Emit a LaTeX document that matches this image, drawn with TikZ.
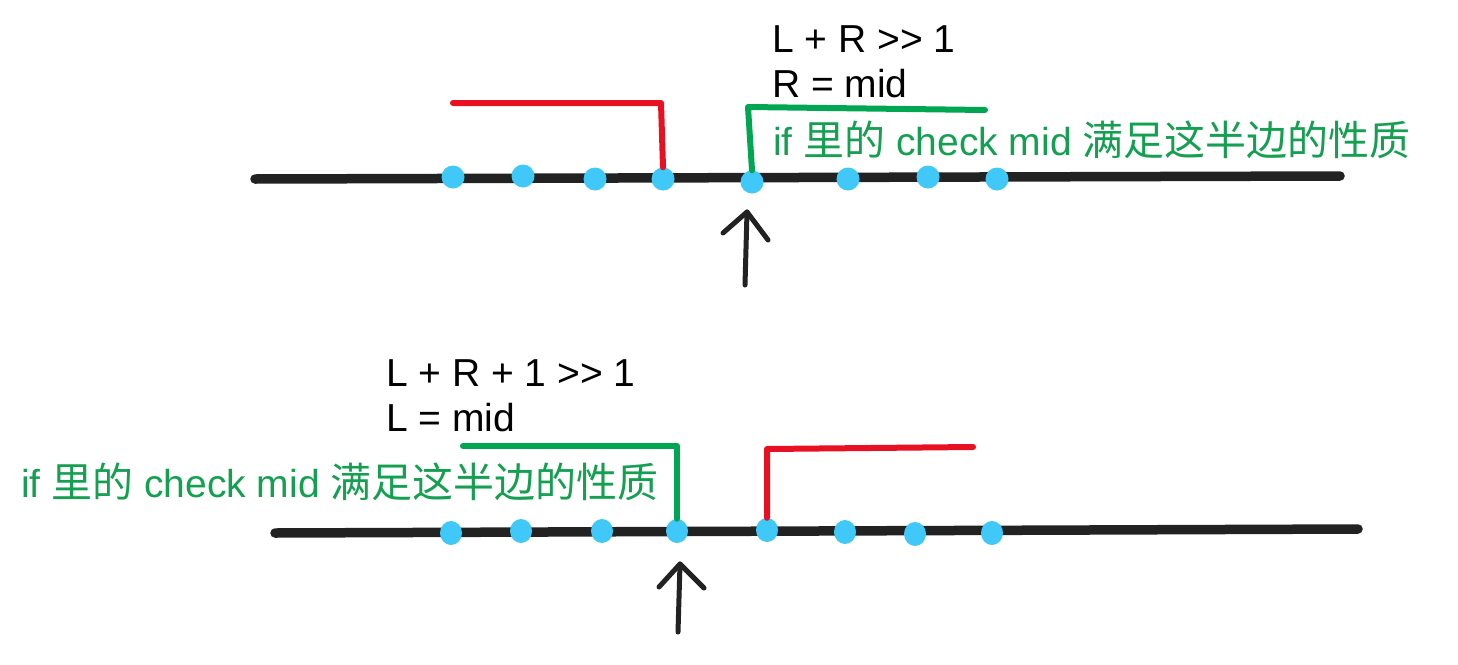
\documentclass[tikz,border=0pt]{standalone}
\usepackage{fontspec}
\setmainfont[Ligatures=NoCommon]{Liberation Sans}
\newfontfamily\cjk[Scale=1.05]{Noto Sans CJK SC}
\usetikzlibrary{shapes.geometric}
\definecolor{linec}{RGB}{34,34,34}
\definecolor{dotc}{RGB}{64,200,248}
\definecolor{redc}{RGB}{232,17,35}
\definecolor{greenc}{RGB}{0,166,81}
\definecolor{textgreen}{RGB}{20,160,80}
\tikzset{
  axisline/.style={draw=linec, line width=9.5pt, line cap=round},
  dotA/.style={circle, fill=dotc, inner sep=0pt, minimum size=23pt},
  dotB/.style={ellipse, fill=dotc, inner sep=0pt, minimum width=22pt, minimum height=24pt},
  redbr/.style={draw=redc, line width=6pt, line cap=round, line join=round},
  greenbr/.style={draw=greenc, line width=6pt, line cap=round, line join=round},
  ptr/.style={draw=linec, line width=5pt, line cap=round, line join=round},
  lbl/.style={anchor=base west, inner sep=0pt, text=black, font=\fontsize{39}{45}\selectfont},
  glbl/.style={anchor=base west, inner sep=0pt, text=textgreen, font=\fontsize{39}{45}\selectfont}
}
\begin{document}
\begin{tikzpicture}[x=1pt,y=-1pt]
\useasboundingbox (0,0) rectangle (1458,664);
\fill[white] (0,0) rectangle (1458,664);

% ---------- top ----------
\coordinate (tA) at (255,179);
\coordinate (tB) at (1340,176);
\draw[axisline] (tA) -- (tB);
\node[dotA] (t1) at (453,177) {};
\node[dotA] (t2) at (523,176) {};
\node[dotA] (t3) at (595,179) {};
\node[dotA] (t4) at (663,179) {};
\node[dotA] (t5) at (752,182) {};
\node[dotA] (t6) at (848,179) {};
\node[dotA] (t7) at (928,177) {};
\node[dotA] (t8) at (997,179) {};

\coordinate (tr1) at (453,103);
\coordinate (tr2) at (661,103);
\draw[redbr] (tr1) -- (tr2) -- (t4.north);

\coordinate (tg1) at (985,110);
\coordinate (tg2) at (748,107);
\draw[greenbr] (tg1) -- (tg2) -- (t5.north);

\coordinate (ta0) at (745,285);
\coordinate (ta1) at (747,212);
\coordinate (tal) at (723,233);
\coordinate (tar) at (768,240);
\draw[ptr] (ta0) -- (ta1);
\draw[ptr] (tal) -- (ta1) -- (tar);

\node[lbl] (tx1) at (772,52.5) {L + R >{}> 1};
\node[lbl] (tx2) at (772,97) {R = mid};
\node[glbl] (tx3) at (773,155) {if {\cjk 里的} check mid {\cjk 满足这半边的性质}};

% ---------- bottom ----------
\coordinate (bA) at (275,533);
\coordinate (bB) at (1358,529);
\draw[axisline] (bA) -- (bB);
\node[dotB] (b1) at (451,533) {};
\node[dotB] (b2) at (521,531) {};
\node[dotB] (b3) at (602,531) {};
\node[dotB] (b4) at (677,531) {};
\node[dotB] (b5) at (767,530) {};
\node[dotB] (b6) at (845,532) {};
\node[dotB] (b7) at (915,534) {};
\node[dotB] (b8) at (992,533) {};

\coordinate (bg1) at (463,446);
\coordinate (bg2) at (677,446);
\draw[greenbr] (bg1) -- (bg2) -- (b4.north);

\coordinate (br1) at (973,447);
\coordinate (br2) at (767,449);
\draw[redbr] (br1) -- (br2) -- (b5.north);

\coordinate (ba0) at (678,632);
\coordinate (ba1) at (680,564);
\coordinate (bal) at (659,587);
\coordinate (bar) at (704,588);
\draw[ptr] (ba0) -- (ba1);
\draw[ptr] (bal) -- (ba1) -- (bar);

\node[lbl] (bx1) at (386,386) {L + R + 1 >{}> 1};
\node[lbl] (bx2) at (386,431) {L = mid};
\node[glbl] (bx3) at (21,497) {if {\cjk 里的} check mid {\cjk 满足这半边的性质}};
\end{tikzpicture}
\end{document}
